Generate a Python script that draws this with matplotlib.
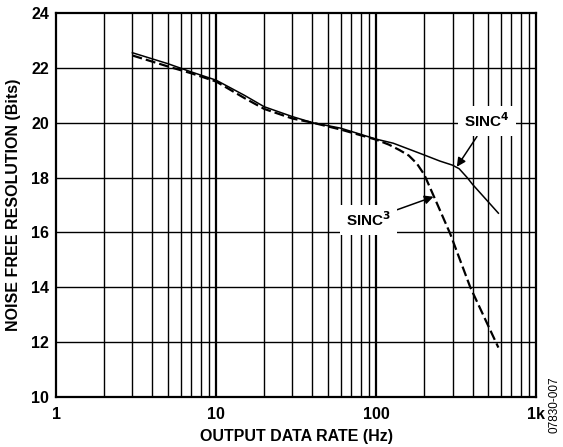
import matplotlib.pyplot as plt

plt.rcParams['font.family'] = ['Liberation Sans', 'DejaVu Sans']
plt.rcParams['font.weight'] = 'bold'

# data
rate_sinc4 = [3, 5, 7, 10, 15, 20, 30, 40, 60, 100, 128, 200, 250, 300, 330, 370, 400, 500, 580]
nfr_sinc4 = [22.55, 22.15, 21.85, 21.55, 21.0, 20.58, 20.22, 20.0, 19.8, 19.4, 19.25,
             18.82, 18.6, 18.45, 18.32, 18.0, 17.75, 17.12, 16.7]

rate_sinc3 = [3, 5, 7, 10, 15, 20, 30, 40, 60, 100, 120, 140, 160, 180, 200, 220, 240, 290, 387, 580]
nfr_sinc3 = [22.45, 22.05, 21.8, 21.5, 20.9, 20.5, 20.15, 20.0, 19.75, 19.38, 19.2, 19.0,
             18.8, 18.5, 18.1, 17.55, 17.05, 15.95, 14.0, 11.8]

yticks = [10, 12, 14, 16, 18, 20, 22, 24]
xticks = [1, 10, 100, 1000]
xtick_labels = ['1', '10', '100', '1k']

fig = plt.figure(figsize=(5.63, 4.47), dpi=100)
ax = fig.add_axes([0.0995, 0.112, 0.853, 0.859])

ax.set_xscale('log')
ax.set_xlim(1, 1000)
ax.set_ylim(10, 24)

# grid: every decade subdivision and every 2 bits
for dec in [1, 10, 100]:
    for m in range(2, 10):
        ax.axvline(dec * m, color='black', lw=1.0, zorder=1)
for dec in [10, 100]:
    ax.axvline(dec, color='black', lw=1.6, zorder=1)
for y in yticks[1:-1]:
    ax.axhline(y, color='black', lw=1.0, zorder=1)

ax.plot(rate_sinc4, nfr_sinc4, color='black', lw=1.1, zorder=3)
ax.plot(rate_sinc3, nfr_sinc3, color='black', lw=1.6, ls=(0, (4.5, 1.8)), zorder=3)

box = dict(boxstyle='square,pad=0.4', fc='white', ec='none')
arrow = dict(arrowstyle='-|>', color='black', lw=1.1, shrinkA=0, shrinkB=0, mutation_scale=13)
ax.annotate('SINC$^{4}$', xy=(319, 18.39), xytext=(494, 20.06),
            ha='center', va='center', fontsize=11, fontweight='bold',
            bbox=box, arrowprops=arrow, zorder=5)
ax.annotate('SINC$^{3}$', xy=(228, 17.3), xytext=(89.5, 16.45),
            ha='center', va='center', fontsize=11, fontweight='bold',
            bbox=box, arrowprops=arrow, zorder=5)

ax.set_xticks(xticks)
ax.set_xticklabels(xtick_labels)
ax.set_xticks([], minor=True)
ax.set_yticks(yticks)
ax.tick_params(length=0, labelsize=11.5)
ax.tick_params(axis='x', pad=7)
ax.tick_params(axis='y', pad=5)
for lab in ax.get_xticklabels() + ax.get_yticklabels():
    lab.set_fontweight('bold')

for sp in ax.spines.values():
    sp.set_linewidth(1.6)

ax.set_xlabel('OUTPUT DATA RATE (Hz)', fontsize=11.5, fontweight='bold', labelpad=5)
ax.set_ylabel('NOISE FREE RESOLUTION (Bits)', fontsize=11.5, fontweight='bold', labelpad=7)

fig.text(0.985, 0.094, '07830-007', rotation=90, fontsize=8.5, fontweight='normal',
         ha='center', va='center')

fig.savefig('out.png', dpi=100)
